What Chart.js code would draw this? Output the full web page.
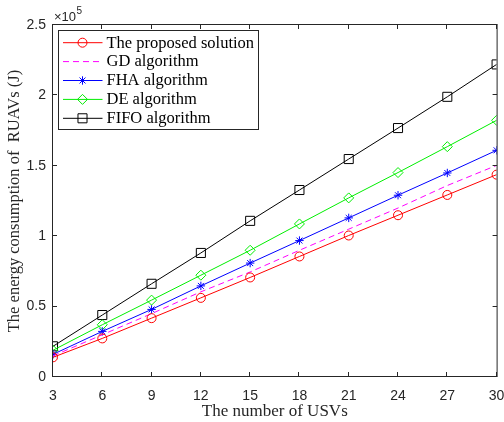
<!DOCTYPE html>
<html>
<head>
<meta charset="utf-8">
<script src="https://cdn.jsdelivr.net/npm/chart.js@4.4.1/dist/chart.umd.min.js"></script>
<style>
html,body{margin:0;padding:0;background:#fff;}
#wrap{width:504px;height:422px;}
canvas{display:block;}
</style>
</head>
<body>
<div id="wrap"><canvas id="c" width="504" height="422"></canvas></div>
<script>
// Data (energy in J)
const usvCounts = [3, 6, 9, 12, 15, 18, 21, 24, 27, 30];
const proposed = [14000, 27400, 41800, 56200, 70700, 85600, 100500, 114900, 129300, 143700];
const gd       = [15000, 30000, 45000, 60500, 74600, 90000, 105000, 120000, 136000, 150300];
const fha      = [16100, 32400, 48000, 64700, 80900, 96900, 113000, 129100, 144900, 161000];
const de       = [19000, 37100, 54600, 72300, 90000, 108700, 127200, 145200, 163600, 182300];
const fifo     = [21800, 44000, 66200, 88100, 110900, 132800, 154800, 176800, 199000, 222000];
const xTicks = [3, 6, 9, 12, 15, 18, 21, 24, 27, 30];
const yTicks = [0, 50000, 100000, 150000, 200000, 250000];
const seriesNames = ['The proposed solution', 'GD algorithm', 'FHA algorithm', 'DE algorithm', 'FIFO algorithm'];

const TXT = '#262626';
const SANS = '"Liberation Sans", Arial, sans-serif';
const SERIF = '"Liberation Serif", "Times New Roman", serif';

function pts(arr){ return usvCounts.map((x,i)=>({x:x, y:arr[i]})); }

const styles = [
  {color:'#ff0000', point:'circle', radius:4.5, dash:[]},
  {color:'#ff00ff', point:false, radius:0, dash:[6,4]},
  {color:'#0000ff', point:'star', radius:4.2, dash:[]},
  {color:'#00ee00', point:'rectRot', radius:5, dash:[]},
  {color:'#000000', point:'rect', radius:6.4, dash:[]}
];
const seriesData = [proposed, gd, fha, de, fifo];

const datasets = seriesData.map((d,i)=>({
  label: seriesNames[i],
  data: pts(d),
  borderColor: styles[i].color,
  borderWidth: 1,
  borderDash: styles[i].dash,
  pointStyle: styles[i].point,
  pointRadius: styles[i].radius,
  pointBorderColor: styles[i].color,
  pointBackgroundColor: 'rgba(0,0,0,0)',
  pointBorderWidth: 1,
  tension: 0,
  fill: false
}));

function drawMarker(ctx, style, r, x, y){
  ctx.beginPath();
  if (style==='circle'){ ctx.arc(x,y,r,0,Math.PI*2); }
  else if (style==='rect'){ const s=Math.SQRT1_2*r; ctx.rect(x-s,y-s,2*s,2*s); }
  else if (style==='rectRot'){ ctx.moveTo(x,y-r); ctx.lineTo(x+r,y); ctx.lineTo(x,y+r); ctx.lineTo(x-r,y); ctx.closePath(); }
  else if (style==='star'){
    ctx.moveTo(x-r,y); ctx.lineTo(x+r,y); ctx.moveTo(x,y-r); ctx.lineTo(x,y+r);
    const d=r*Math.SQRT1_2;
    ctx.moveTo(x-d,y-d); ctx.lineTo(x+d,y+d); ctx.moveTo(x-d,y+d); ctx.lineTo(x+d,y-d);
  }
  ctx.stroke();
}

const framePlugin = {
  id:'frame',
  afterDraw(chart){
    const ctx = chart.ctx, a = chart.chartArea;
    const xs = chart.scales.x, ys = chart.scales.y;
    ctx.save();
    ctx.strokeStyle = TXT; ctx.lineWidth = 1; ctx.setLineDash([]);
    const L=a.left-0.5, R=a.right+0.5, T=a.top-0.5, B=a.bottom-0.5;
    ctx.strokeRect(L, T, R-L, B-T);
    const tl = 4.5;
    ctx.beginPath();
    xTicks.forEach(v=>{
      const px = Math.round(xs.getPixelForValue(v))-0.5;
      ctx.moveTo(px,B); ctx.lineTo(px,B-tl);
      ctx.moveTo(px,T); ctx.lineTo(px,T+tl);
    });
    yTicks.forEach(v=>{
      const py = Math.round(ys.getPixelForValue(v))-0.5;
      ctx.moveTo(L,py); ctx.lineTo(L+tl,py);
      ctx.moveTo(R,py); ctx.lineTo(R-tl,py);
    });
    ctx.stroke();
    // exponent label
    ctx.fillStyle = TXT;
    ctx.textBaseline = 'alphabetic'; ctx.textAlign = 'left';
    ctx.font = '13px ' + SANS;
    ctx.fillText('\u00d710', 54, 21);
    const w = ctx.measureText('\u00d710').width;
    ctx.font = '10px ' + SANS;
    ctx.fillText('5', 54 + w + 0.5, 14);

    // legend
    const bx=58.5, by=30.5, bw=200, bh=99;
    ctx.fillStyle='#ffffff'; ctx.fillRect(bx,by,bw,bh);
    ctx.strokeStyle=TXT; ctx.strokeRect(bx,by,bw,bh);
    chart.data.datasets.forEach((ds,i)=>{
      const y = 42.7 + i*18.9;
      const st = styles[i];
      ctx.strokeStyle = st.color; ctx.lineWidth = 1;
      ctx.setLineDash(st.dash);
      ctx.beginPath(); ctx.moveTo(63,y); ctx.lineTo(102.5,y); ctx.stroke();
      ctx.setLineDash([]);
      if (st.point) drawMarker(ctx, st.point, st.radius, 82.5, y);
      ctx.fillStyle = '#000';
      ctx.font = '16.5px ' + SERIF;
      ctx.textBaseline = 'middle';
      ctx.fillText(ds.label, 106.5, y+0.5);
    });
    ctx.restore();
  }
};

new Chart(document.getElementById('c'), {
  type:'line',
  data:{ datasets: datasets },
  options:{
    responsive:false,
    animation:false,
    events:[],
    layout:{ padding:{ top:25, right:5, left:0, bottom:0 } },
    plugins:{ legend:{display:false}, tooltip:{enabled:false}, title:{display:false} },
    scales:{
      x:{
        type:'linear', min:3, max:30,
        grid:{ display:false, drawTicks:false },
        border:{ display:false },
        afterBuildTicks(scale){ scale.ticks = xTicks.map(v=>({value:v})); },
        ticks:{ padding:11, color:TXT, font:{family:SANS, size:14}, autoSkip:false, maxRotation:0,
                callback:(v)=>String(v) },
        title:{ display:true, text:'The number of USVs', color:TXT, font:{family:SERIF, size:17}, padding:{top:0,bottom:0} },
        afterFit(scale){ scale.height = 45; scale.paddingLeft = 0; scale.paddingRight = 0; }
      },
      y:{
        type:'linear', min:0, max:250000,
        grid:{ display:false, drawTicks:false },
        border:{ display:false },
        afterBuildTicks(scale){ scale.ticks = yTicks.map(v=>({value:v})); },
        ticks:{ padding:7, color:TXT, font:{family:SANS, size:14},
                callback:(v)=>String(v/100000) },
        title:{ display:true, text:'The energy consumption of  RUAVs (J)', color:TXT, font:{family:SERIF, size:16.5}, padding:{top:5,bottom:0} },
        afterFit(scale){ scale.width = 53; scale.paddingTop = 0; scale.paddingBottom = 0; }
      }
    }
  },
  plugins:[framePlugin]
});
</script>
</body>
</html>
